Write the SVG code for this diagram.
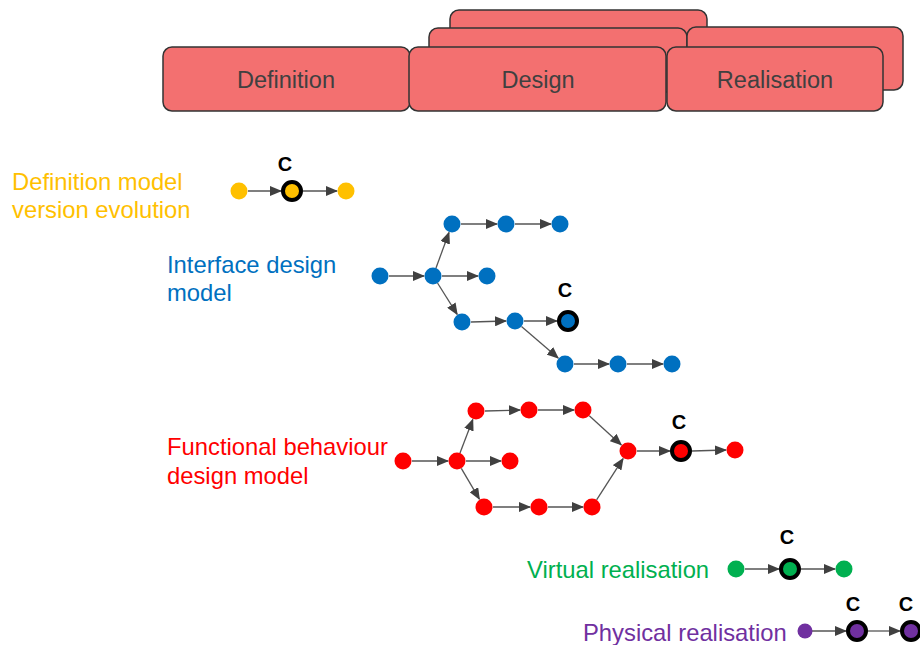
<svg xmlns="http://www.w3.org/2000/svg" width="920" height="645" viewBox="0 0 920 645">
  <style>
    .phase { fill: #F37070; stroke: #333333; stroke-width: 1.5; }
    .phase-label { font-family: "Liberation Sans", Arial, sans-serif; font-size: 23.5px; fill: #404040; text-anchor: middle; }
    .lane { font-family: "Liberation Sans", Arial, sans-serif; font-size: 23.8px; }
    .c-label { font-family: "Liberation Sans", Arial, sans-serif; font-size: 20px; font-weight: bold; fill: #000; text-anchor: middle; }
    .edge { stroke: #555555; stroke-width: 1.3; fill: none; marker-end: url(#arrow); }
    .ckpt { stroke: #000; stroke-width: 4; }
    .def { fill: #FFC000; }
    .ifc { fill: #0070C0; }
    .fun { fill: #FF0000; }
    .vir { fill: #00B050; }
    .phy { fill: #7030A0; }
  </style>
  <defs>
    <marker id="arrow" markerUnits="userSpaceOnUse" markerWidth="12" markerHeight="10" refX="11" refY="5" orient="auto">
      <path d="M0,0 L12,5 L0,10 z" fill="#404040"/>
    </marker>
  </defs>

  <!-- lifecycle phase boxes -->
  <g id="phases">
    <rect class="phase" x="450" y="10" width="257" height="64" rx="9"/>
    <rect class="phase" x="429" y="28" width="258" height="64" rx="9"/>
    <rect class="phase" x="687" y="27" width="216" height="63" rx="9"/>
    <g id="phase-definition">
      <rect class="phase" x="163" y="47" width="247" height="64" rx="9"/>
      <text class="phase-label" x="286" y="88">Definition</text>
    </g>
    <g id="phase-design">
      <rect class="phase" x="409" y="47" width="257" height="64" rx="9"/>
      <text class="phase-label" x="538" y="88">Design</text>
    </g>
    <g id="phase-realisation">
      <rect class="phase" x="667" y="47" width="216" height="64" rx="9"/>
      <text class="phase-label" x="775" y="88">Realisation</text>
    </g>
  </g>

  <!-- lane titles -->
  <g id="lane-labels">
    <text class="lane" x="12" y="190" fill="#FFC000">Definition model</text>
    <text class="lane" x="12" y="218" fill="#FFC000">version evolution</text>
    <text class="lane" x="167" y="273" fill="#0070C0">Interface design</text>
    <text class="lane" x="167" y="301" fill="#0070C0">model</text>
    <text class="lane" x="167" y="455" fill="#FF0000">Functional behaviour</text>
    <text class="lane" x="167" y="484" fill="#FF0000">design model</text>
    <text class="lane" x="527" y="578" fill="#00B050">Virtual realisation</text>
    <text class="lane" x="583" y="641" fill="#7030A0">Physical realisation</text>
  </g>

  <!-- connectors -->
  <g id="connectors">
    <line class="edge" x1="248" y1="191" x2="281" y2="191"/>
    <line class="edge" x1="303" y1="191" x2="337" y2="191"/>

    <line class="edge" x1="389" y1="276" x2="424" y2="276"/>
    <line class="edge" x1="442" y1="276" x2="478" y2="276"/>
    <line class="edge" x1="436" y1="268" x2="449" y2="232.5"/>
    <line class="edge" x1="461" y1="224" x2="497" y2="224"/>
    <line class="edge" x1="515" y1="224" x2="551" y2="224"/>
    <line class="edge" x1="437.5" y1="283" x2="457.2" y2="314.4"/>
    <line class="edge" x1="471" y1="322" x2="506" y2="321"/>
    <line class="edge" x1="524" y1="321" x2="557" y2="321"/>
    <line class="edge" x1="521.5" y1="326.5" x2="558.2" y2="358"/>
    <line class="edge" x1="574" y1="364" x2="609" y2="364"/>
    <line class="edge" x1="627" y1="364" x2="663" y2="364"/>

    <line class="edge" x1="412" y1="461" x2="448" y2="461"/>
    <line class="edge" x1="466" y1="461" x2="501" y2="461"/>
    <line class="edge" x1="460" y1="453" x2="472.8" y2="419.4"/>
    <line class="edge" x1="485" y1="411" x2="520" y2="410"/>
    <line class="edge" x1="538" y1="410" x2="574" y2="410"/>
    <line class="edge" x1="589.3" y1="415.7" x2="621.3" y2="444.9"/>
    <line class="edge" x1="461.3" y1="468.3" x2="479.4" y2="499.2"/>
    <line class="edge" x1="493" y1="507" x2="530" y2="507"/>
    <line class="edge" x1="548" y1="507" x2="583" y2="507"/>
    <line class="edge" x1="596.6" y1="499.9" x2="623.1" y2="458.6"/>
    <line class="edge" x1="637" y1="451" x2="670" y2="451"/>
    <line class="edge" x1="692" y1="451" x2="726" y2="450"/>

    <line class="edge" x1="745" y1="569" x2="779" y2="569"/>
    <line class="edge" x1="801" y1="569" x2="835" y2="569"/>

    <line class="edge" x1="812" y1="631" x2="846" y2="631"/>
    <line class="edge" x1="868" y1="631" x2="900" y2="631"/>
  </g>

  <!-- definition model versions -->
  <g id="definition-versions">
    <circle id="d1" class="def" cx="239" cy="191" r="8.5"/>
    <g id="d2">
      <circle class="def ckpt" cx="292" cy="191" r="9"/>
      <text class="c-label" x="285" y="171">C</text>
    </g>
    <circle id="d3" class="def" cx="346" cy="191" r="8.5"/>
  </g>

  <!-- interface design versions -->
  <g id="interface-versions">
    <circle id="i1" class="ifc" cx="380" cy="276" r="8.5"/>
    <circle id="i2" class="ifc" cx="433" cy="276" r="8.5"/>
    <circle id="i3" class="ifc" cx="487" cy="276" r="8.5"/>
    <circle id="i4" class="ifc" cx="452" cy="224" r="8.5"/>
    <circle id="i5" class="ifc" cx="506" cy="224" r="8.5"/>
    <circle id="i6" class="ifc" cx="560" cy="224" r="8.5"/>
    <circle id="i7" class="ifc" cx="462" cy="322" r="8.5"/>
    <circle id="i8" class="ifc" cx="515" cy="321" r="8.5"/>
    <g id="i9">
      <circle class="ifc ckpt" cx="568" cy="321" r="9"/>
      <text class="c-label" x="565" y="297">C</text>
    </g>
    <circle id="i10" class="ifc" cx="565" cy="364" r="8.5"/>
    <circle id="i11" class="ifc" cx="618" cy="364" r="8.5"/>
    <circle id="i12" class="ifc" cx="672" cy="364" r="8.5"/>
  </g>

  <!-- functional behaviour design versions -->
  <g id="functional-versions">
    <circle id="f1" class="fun" cx="403" cy="461" r="8.5"/>
    <circle id="f2" class="fun" cx="457" cy="461" r="8.5"/>
    <circle id="f3" class="fun" cx="510" cy="461" r="8.5"/>
    <circle id="f4" class="fun" cx="476" cy="411" r="8.5"/>
    <circle id="f5" class="fun" cx="529" cy="410" r="8.5"/>
    <circle id="f6" class="fun" cx="583" cy="410" r="8.5"/>
    <circle id="f7" class="fun" cx="484" cy="507" r="8.5"/>
    <circle id="f8" class="fun" cx="539" cy="507" r="8.5"/>
    <circle id="f9" class="fun" cx="592" cy="507" r="8.5"/>
    <circle id="f10" class="fun" cx="628" cy="451" r="8.5"/>
    <g id="f11">
      <circle class="fun ckpt" cx="681" cy="451" r="9"/>
      <text class="c-label" x="679" y="429">C</text>
    </g>
    <circle id="f12" class="fun" cx="735" cy="450" r="8.5"/>
  </g>

  <!-- virtual realisation versions -->
  <g id="virtual-versions">
    <circle id="v1" class="vir" cx="736" cy="569" r="8.5"/>
    <g id="v2">
      <circle class="vir ckpt" cx="790" cy="569" r="9"/>
      <text class="c-label" x="787" y="544">C</text>
    </g>
    <circle id="v3" class="vir" cx="844" cy="569" r="8.5"/>
  </g>

  <!-- physical realisation versions -->
  <g id="physical-versions">
    <circle id="p1" class="phy" cx="805" cy="631" r="7.5"/>
    <g id="p2">
      <circle class="phy ckpt" cx="857" cy="631" r="9"/>
      <text class="c-label" x="853" y="611">C</text>
    </g>
    <g id="p3">
      <circle class="phy ckpt" cx="911" cy="631" r="9"/>
      <text class="c-label" x="906" y="611">C</text>
    </g>
  </g>
</svg>
